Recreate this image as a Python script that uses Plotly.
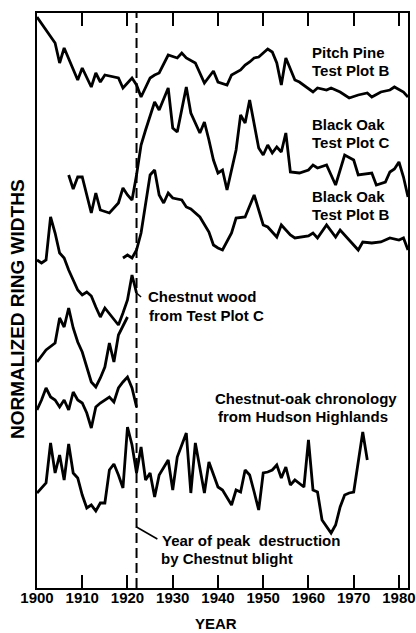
import plotly.graph_objects as go

# ---------------- data (y = relative ring width in chart units) -------------
pp_years = [1900,1904,1905,1906,1909,1910,1912,1913,1914,1915,1918,1919,1921,1922,1923,1925,1926,1927,
            1929,1931,1932,1933,1935,1937,1939,1940,1942,1943,1945,1946,1947,1948,1949,1950,1951,1952,
            1953,1954,1955,1957,1958,1961,1962,1964,1965,1967,1969,1971,1973,1974,1976,1978,1979,1981,1982]
pp_vals = [571,545,525,540,508,520,501,515,506,513,510,500,510,503,491,510,513,515,
           533,530,535,530,525,505,517,506,503,513,518,523,526,530,531,535,539,536,
           525,503,530,508,506,496,500,498,500,496,490,493,495,491,496,498,501,496,491]

boc_years = [1907,1908,1909,1910,1912,1913,1914,1916,1918,1919,1920,1921,1922,1923,1924,1926,1927,1929,
             1930,1931,1933,1934,1936,1937,1938,1939,1940,1941,1942,1943,1944,1945,1946,1947,1949,1950,
             1951,1952,1953,1954,1955,1956,1958,1960,1961,1962,1964,1966,1968,1970,1971,1974,1975,1977,
             1978,1979,1980,1981,1982]
boc_vals = [413,399,411,411,375,395,378,375,385,400,393,388,413,443,458,486,478,500,
            460,456,501,475,455,466,448,428,415,418,398,418,438,473,465,488,440,433,
            443,435,441,436,455,416,415,418,423,420,423,403,433,428,413,415,403,406,
            416,419,426,411,391]

bob_years = [1919,1920,1921,1922,1923,1924,1925,1926,1927,1928,1929,1930,1932,1933,1934,1936,1938,1939,
             1940,1941,1943,1944,1946,1948,1950,1951,1953,1954,1956,1957,1960,1961,1962,1964,1966,1967,
             1970,1971,1972,1974,1976,1978,1980,1981,1982]
bob_vals = [330,333,330,338,355,383,413,418,393,385,395,390,388,381,379,371,356,343,
            340,338,355,370,371,393,363,361,351,363,353,350,352,355,350,363,351,358,
            343,338,346,345,346,350,348,350,338]

cwa_years = [1900,1901,1902,1903,1904,1905,1906,1907,1909,1910,1911,1912,1913,1914,1915,1918,1919,1920,1921,1922]
cwa_vals = [328,325,328,371,355,335,330,318,298,293,296,292,281,271,280,263,275,288,313,295]

cwb_years = [1900,1902,1904,1905,1906,1907,1908,1909,1910,1911,1912,1913,1914,1915,1916,1917,1918,1920]
cwb_vals = [226,238,245,270,261,280,260,246,236,221,206,201,210,221,245,226,253,271]

cwc_years = [1900,1901,1902,1903,1904,1905,1906,1907,1908,1909,1910,1911,1912,1913,1914,1915,1916,1917,
             1918,1919,1920,1921,1922]
cwc_vals = [178,188,200,191,188,181,188,178,196,188,185,175,160,181,185,188,191,186,
            200,206,211,200,181]

hh_years = [1900,1902,1903,1904,1905,1906,1907,1908,1909,1910,1911,1912,1913,1914,1915,1916,1917,1918,
            1919,1920,1921,1922,1923,1924,1925,1926,1927,1929,1930,1931,1933,1934,1935,1937,1938,1940,
            1941,1942,1943,1944,1945,1946,1947,1948,1949,1950,1951,1952,1953,1954,1955,1956,1957,1959,
            1960,1961,1962,1963,1965,1966,1967,1968,1969,1970,1971,1972,1973]
hh_vals = [95,105,145,115,133,108,144,115,110,93,80,83,77,85,85,118,124,113,
           100,161,143,115,141,108,115,91,113,128,98,131,155,95,145,95,126,101,
           98,90,83,98,96,118,113,96,78,115,116,118,123,110,121,103,108,101,
           148,98,96,68,55,63,81,93,95,96,125,156,128]

tick_years = [1900, 1910, 1920, 1930, 1940, 1950, 1960, 1970, 1980]
blight_year = 1922

# ---------------- figure ----------------
FONT = "Liberation Sans, Arial, sans-serif"
fig = go.Figure()
for xs, ys in [(pp_years, pp_vals), (boc_years, boc_vals), (bob_years, bob_vals),
               (cwa_years, cwa_vals), (cwb_years, cwb_vals), (cwc_years, cwc_vals),
               (hh_years, hh_vals)]:
    fig.add_trace(go.Scatter(x=xs, y=ys, mode="lines",
                             line=dict(color="black", width=2.8), showlegend=False,
                             hoverinfo="skip"))

fig.add_shape(type="line", x0=blight_year, x1=blight_year, y0=0, y1=1, xref="x", yref="paper",
              line=dict(color="black", width=2, dash="10px,5px"))
# leader lines
fig.add_shape(type="line", x0=blight_year, y0=61, x1=1926.6, y1=49, xref="x", yref="y",
              line=dict(color="black", width=1.5))
fig.add_shape(type="line", x0=blight_year, y0=295, x1=1923.0, y1=291, xref="x", yref="y",
              line=dict(color="black", width=1.5))

labels = [
    ("Pitch Pine", 1960.3, 536), ("Test Plot B", 1960.3, 518),
    ("Black Oak", 1960.3, 464), ("Test Plot C", 1960.3, 446),
    ("Black Oak", 1960.3, 392), ("Test Plot B", 1960.3, 374),
    ("Chestnut wood", 1924.2, 292), ("from Test Plot C", 1924.4, 273),
    ("Chestnut-oak chronology", 1939.0, 190), ("from Hudson Highlands", 1939.5, 172),
    ("Year of peak  destruction", 1927.1, 48), ("by Chestnut blight", 1926.9, 30),
]
for t, x, y in labels:
    fig.add_annotation(text=t, x=x, y=y, xref="x", yref="y", xanchor="left", yanchor="middle",
                       showarrow=False, font=dict(family=FONT, size=15, color="black", weight="bold"))

fig.add_annotation(text="NORMALIZED RING WIDTHS", x=-0.054, y=0.485, xref="paper", yref="paper",
                   textangle=-90, showarrow=False, xanchor="center", yanchor="middle",
                   font=dict(family=FONT, size=19, color="black", weight="bold"))
fig.add_annotation(text="YEAR", x=0.4825, y=-0.061, xref="paper", yref="paper",
                   showarrow=False, xanchor="center", yanchor="middle",
                   font=dict(family=FONT, size=15, color="black", weight="bold"))

fig.update_layout(
    width=416, height=633,
    margin=dict(l=37, r=8, t=13, b=45, autoexpand=False),
    paper_bgcolor="white", plot_bgcolor="white",
    xaxis=dict(range=[1900, 1982], tickvals=tick_years, ticktext=[str(v) for v in tick_years],
               ticks="inside", ticklen=13, tickwidth=2, tickcolor="black",
               showline=True, linecolor="black", linewidth=2, mirror="ticks",
               showgrid=False, zeroline=False, automargin=False, ticklabelstandoff=-5,
               tickfont=dict(family=FONT, size=15, color="black", weight="bold")),
    yaxis=dict(range=[0, 575], showticklabels=False, ticks="", showline=True, linecolor="black",
               linewidth=2, mirror=True, showgrid=False, zeroline=False, automargin=False),
)

fig.write_html("out.html", config={"displayModeBar": False},
               post_script="document.body.style.margin='0px';")
